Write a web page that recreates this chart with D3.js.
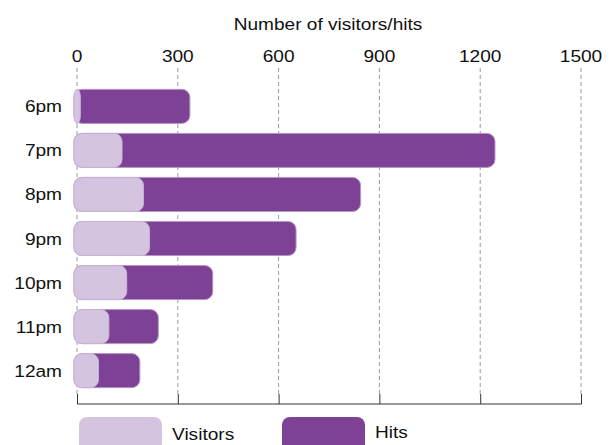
<!DOCTYPE html>
<html><head><meta charset="utf-8">
<script src="https://cdn.jsdelivr.net/npm/d3@7"></script>
<style>body{margin:0;background:#fff}svg{display:block}text{font-family:"Liberation Sans",Arial,Helvetica,sans-serif;fill:#111;font-size:17.2px}</style>
</head><body>
<script>
const categories = ["6pm","7pm","8pm","9pm","10pm","11pm","12am"];
const visitors = [10,134,198,216,148,95,64];
const hits = [336,1244,844,652,404,242,187];
const tickValues = [0,300,600,900,1200,1500];
const seriesNames = ["Visitors","Hits"];
const colors = ["#d4c4e0","#7d4196"];

const W=610,H=445,SX=1.11;
const svg=d3.select("body").append("svg").attr("width",W).attr("height",H);
const x=d3.scaleLinear().domain([0,1500]).range([77,581]);
const y=d3.scaleBand().domain(categories).range([84.5,392.5]).paddingInner(0.227).paddingOuter(0.11);
const tr=(px,py)=>`translate(${px},${py}) scale(${SX},1)`;

// title
svg.append("text").attr("transform",tr(328,30)).attr("text-anchor","middle").text("Number of visitors/hits");

// grid lines
svg.append("g").selectAll("line").data(tickValues).join("line")
  .attr("x1",d=>x(d)).attr("x2",d=>x(d)).attr("y1",68).attr("y2",395)
  .attr("stroke","#9a9a9a").attr("stroke-width",1).attr("stroke-dasharray","4,3");

// top tick labels
svg.append("g").selectAll("text").data(tickValues).join("text")
  .attr("transform",d=>tr(x(d),62)).attr("text-anchor","middle").text(d=>d);

// bottom axis
const bottom=svg.append("g").attr("transform","translate(0,404)")
  .call(d3.axisBottom(x).tickValues(tickValues).tickSize(-10).tickFormat(""));
bottom.select(".domain").attr("stroke","#333").attr("d","M77.5,0H581.5");
bottom.selectAll(".tick line").attr("stroke","#333");

// category labels
svg.append("g").selectAll("text").data(categories).join("text")
  .attr("transform",d=>tr(62,y(d)+y.bandwidth()/2+6)).attr("text-anchor","end").text(d=>d);

const r=8;
// hits bars
svg.append("g").selectAll("rect").data(categories).join("rect")
  .attr("x",x(0)-3).attr("y",d=>y(d)).attr("height",y.bandwidth())
  .attr("width",(d,i)=>x(hits[i])-x(0)+3).attr("rx",r).attr("ry",r)
  .attr("fill",colors[1]).attr("stroke","#b596c6").attr("stroke-width",1);
// visitors bars
svg.append("g").selectAll("rect").data(categories).join("rect")
  .attr("x",x(0)-3).attr("y",d=>y(d)).attr("height",y.bandwidth())
  .attr("width",(d,i)=>x(visitors[i])-x(0)+3).attr("rx",r).attr("ry",r)
  .attr("fill",colors[0]).attr("stroke","#c6b2d6").attr("stroke-width",1);

// legend
const lg=svg.append("g");
const lx=[79,282];
seriesNames.forEach((s,i)=>{
  lg.append("rect").attr("x",lx[i]).attr("y",417).attr("width",83).attr("height",40).attr("rx",8).attr("ry",8).attr("fill",colors[i]);
  lg.append("text").attr("transform",tr(lx[i]+93,i==0?440:438)).text(s);
});
</script>
</body></html>
